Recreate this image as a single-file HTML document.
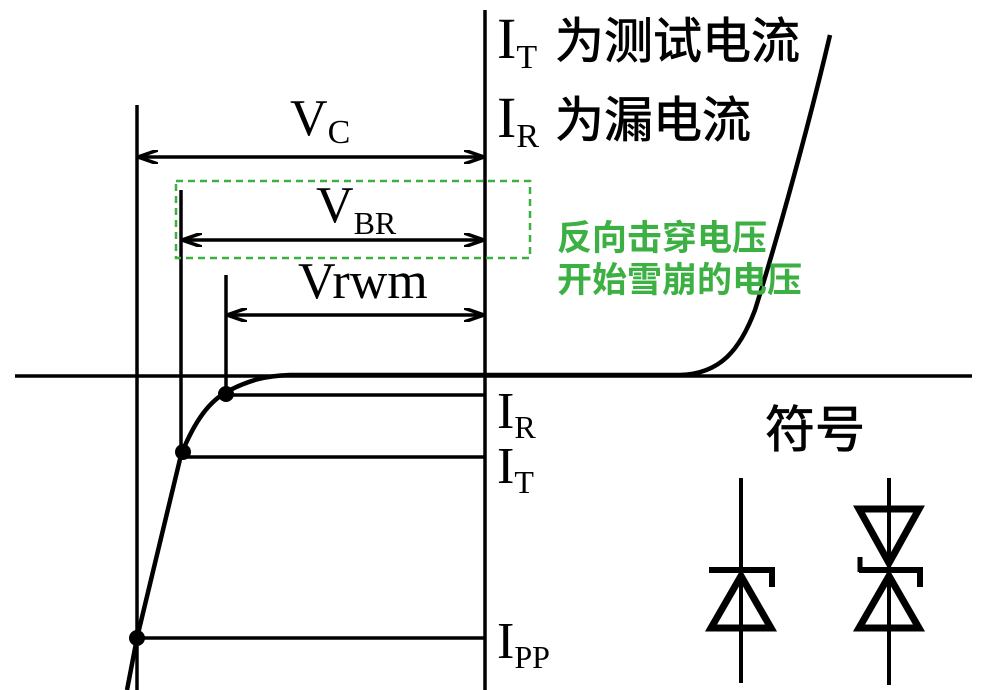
<!DOCTYPE html>
<html><head><meta charset="utf-8"><style>
html,body{margin:0;padding:0;background:#fff;width:997px;height:690px;overflow:hidden}
svg{display:block}
.s{font-family:"Liberation Serif",serif;fill:#000}
.c{font-family:"Liberation Sans","Noto Sans CJK SC",sans-serif;fill:#000;stroke:#000;stroke-width:0.8}
.g{font-family:"Liberation Sans","Noto Sans CJK SC",sans-serif;fill:#3cb043;font-weight:bold}
</style></head><body>
<svg width="997" height="690" viewBox="0 0 997 690" xmlns="http://www.w3.org/2000/svg">
<defs>
<marker id="a" viewBox="0 0 20 14" refX="19" refY="7" markerWidth="20" markerHeight="14" markerUnits="userSpaceOnUse" orient="auto-start-reverse">
<path d="M0,0 L20,7 L0,14" fill="none" stroke="#000" stroke-width="3.5"/>
</marker>
</defs>
<g stroke="#000" stroke-width="3.5" fill="none">
<line x1="15" y1="376" x2="972" y2="376"/>
<line x1="485" y1="10" x2="485" y2="690"/>
<line x1="137" y1="105" x2="137" y2="690"/>
<line x1="181" y1="190" x2="181" y2="452"/>
<line x1="226" y1="275" x2="226" y2="395"/>
<line x1="139" y1="157" x2="483" y2="157" marker-start="url(#a)" marker-end="url(#a)"/>
<line x1="183" y1="240" x2="483" y2="240" marker-start="url(#a)" marker-end="url(#a)"/>
<line x1="228" y1="315" x2="483" y2="315" marker-start="url(#a)" marker-end="url(#a)"/>
<line x1="226" y1="395" x2="485" y2="395"/>
<line x1="181" y1="457" x2="485" y2="457"/>
<line x1="137" y1="638" x2="485" y2="638"/>
<path d="M127,690 L137,638 L181,455 C195,420 210,400 230,390 C250,380 265,376 290,375 L680,375 C720,374 740,350 755,310 C780,230 810,120 830,35" stroke-width="4.5"/>
</g>
<circle cx="226" cy="394" r="8"/>
<circle cx="183" cy="452" r="8"/>
<circle cx="137" cy="638" r="8"/>
<rect x="176" y="181" width="354" height="77" fill="none" stroke="#3cb043" stroke-width="2.5" stroke-dasharray="7,5"/>
<text class="s" x="290" y="135" font-size="52">V<tspan font-size="34" dy="8">C</tspan></text>
<text class="s" x="316" y="222" font-size="52">V<tspan font-size="32" dy="12">BR</tspan></text>
<text class="s" x="298" y="298" font-size="52">Vrwm</text>
<text class="s" x="497" y="58" font-size="58">I<tspan font-size="34" dy="10">T</tspan></text>
<text class="c" x="555" y="58" font-size="49">为测试电流</text>
<text class="s" x="497" y="137" font-size="58">I<tspan font-size="34" dy="10">R</tspan></text>
<text class="c" x="555" y="137" font-size="49">为漏电流</text>
<text class="g" x="557" y="250" font-size="35">反向击穿电压</text>
<text class="g" x="557" y="292" font-size="35">开始雪崩的电压</text>
<text class="c" x="765" y="447" font-size="50">符号</text>
<text class="s" x="497" y="428" font-size="52">I<tspan font-size="32" dy="10">R</tspan></text>
<text class="s" x="497" y="483" font-size="52">I<tspan font-size="32" dy="10">T</tspan></text>
<text class="s" x="497" y="658" font-size="52">I<tspan font-size="32" dy="10">PP</tspan></text>
<g stroke="#000" fill="none">
<line x1="741" y1="478" x2="741" y2="683" stroke-width="4"/>
<path d="M709,570 L772,570 L772,587" stroke-width="6"/>
<polygon points="741,576 711,628 771,628" stroke-width="7" stroke-linejoin="miter"/>
<line x1="889" y1="478" x2="889" y2="685" stroke-width="4"/>
<polygon points="859,509 919,509 889,563" stroke-width="7"/>
<polygon points="889,576 859,628 919,628" stroke-width="7"/>
<path d="M859,570 L920,570 L920,587" stroke-width="6"/>
<line x1="860" y1="557" x2="860" y2="572" stroke-width="5"/>
</g>
</svg>
</body></html>
